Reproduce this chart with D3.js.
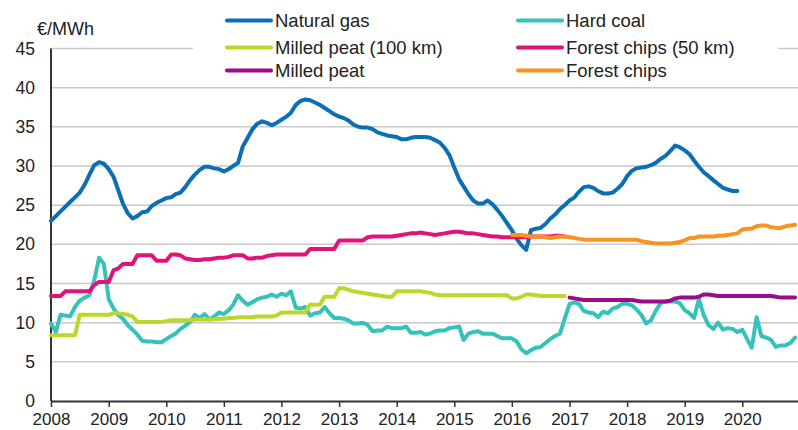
<!DOCTYPE html>
<html lang="en">
<head>
  <meta charset="UTF-8">
  <title>Fuel prices</title>
  <style>
    body { margin: 0; background: #fff; }
    svg { display: block; font-family: "Liberation Sans", Arial, sans-serif; }
    .grid line { stroke: #c9c9c9; stroke-width: 1.5; }
    .series { fill: none; stroke-width: 4; stroke-linejoin: round; stroke-linecap: round; }
    text { fill: #222; }
  </style>
</head>
<body>
  <svg width="798" height="430"></svg>
  <script src="https://d3js.org/d3.v7.min.js"></script>
  <script>
    // monthly values, €/MWh
    const years = [2008, 2009, 2010, 2011, 2012, 2013, 2014, 2015, 2016, 2017, 2018, 2019, 2020];
    const yTicks = [0, 5, 10, 15, 20, 25, 30, 35, 40, 45];

    // Jan 2008 - Dec 2019
    const naturalGas = [
      23.0, 23.6, 24.2, 24.8, 25.4, 26.0, 26.6, 27.6, 28.9, 30.1, 30.5, 30.3,
      29.6, 28.6, 27.0, 25.2, 24.0, 23.3, 23.6, 24.1, 24.2, 24.9, 25.3, 25.6,
      25.9, 26.0, 26.4, 26.6, 27.3, 28.2, 28.9, 29.5, 29.9, 29.9, 29.7, 29.6,
      29.3, 29.6, 30.0, 30.4, 32.5, 33.6, 34.7, 35.4, 35.7, 35.5, 35.2, 35.5,
      35.9, 36.3, 36.8, 37.8, 38.3, 38.5, 38.4, 38.1, 37.8, 37.4, 37.0, 36.6,
      36.3, 36.1, 35.8, 35.3, 35.0, 34.9, 34.9, 34.7, 34.3, 34.1, 33.9, 33.8,
      33.7, 33.4, 33.4, 33.6, 33.7, 33.7, 33.7, 33.6, 33.3, 33.0, 32.3, 31.4,
      29.8, 28.3, 27.4, 26.4, 25.6, 25.2, 25.2, 25.6, 25.1, 24.4, 23.6, 22.7,
      21.8, 20.7, 19.9, 19.3, 21.8, 22.0, 22.1, 22.6, 23.3, 23.8, 24.5, 25.0,
      25.6, 26.0, 26.7, 27.3, 27.4, 27.2, 26.8, 26.5, 26.5, 26.6, 27.1, 27.7,
      28.7, 29.4, 29.7, 29.8, 29.9, 30.1, 30.4, 30.9, 31.3, 31.9, 32.6, 32.4,
      32.0, 31.5, 30.7, 29.9, 29.2, 28.7, 28.2, 27.7, 27.2, 27.0, 26.8, 26.8
    ];

    // Jan 2008 - Dec 2020
    const hardCoal = [
      9.9, 8.8, 11.0, 10.9, 10.8, 12.0, 12.8, 13.2, 13.5, 15.4, 18.3, 17.5,
      13.0, 11.8, 11.0, 10.5, 9.7, 9.1, 8.5, 7.7, 7.6, 7.6, 7.5, 7.5,
      7.9, 8.3, 8.6, 9.2, 9.6, 10.1, 11.0, 10.6, 11.1, 10.4, 10.8, 11.3,
      11.1, 11.6, 12.3, 13.5, 12.8, 12.3, 12.6, 13.0, 13.2, 13.3, 13.6, 13.3,
      13.7, 13.5, 14.0, 11.9, 11.8, 12.0, 10.9, 11.2, 11.3, 12.0, 11.2, 10.6,
      10.6, 10.5, 10.3, 9.9, 9.9, 10.0, 9.7, 8.9, 9.0, 9.0, 9.5, 9.3,
      9.3, 9.3, 9.5, 8.7, 8.7, 8.8, 8.5, 8.6, 8.9, 9.0, 9.0, 9.3,
      9.4, 9.5, 7.8, 8.6, 8.8, 8.9, 8.6, 8.6, 8.6, 8.3, 8.0, 8.0,
      8.0, 7.6, 6.6, 6.1, 6.5, 6.8, 6.9, 7.4, 7.9, 8.3, 8.6, 10.5,
      12.4, 12.6, 12.4, 11.5, 11.3, 11.2, 10.7, 11.4, 11.2, 11.8, 12.0, 12.4,
      12.4, 12.2, 11.7, 11.0, 9.9, 10.3, 11.5, 12.5, 12.7, 12.7, 12.7, 12.5,
      11.6, 11.2, 10.6, 13.0, 11.0, 9.7, 9.2, 10.0, 9.1, 9.3, 9.2, 8.8,
      9.1, 7.9, 6.8, 10.7, 8.3, 8.1, 7.8, 6.9, 7.1, 7.1, 7.4, 8.1
    ];

    // Jan 2008 - Dec 2016
    const milledPeat100 = [
      8.4, 8.4, 8.4, 8.4, 8.4, 8.4, 11.0, 11.0, 11.0, 11.0, 11.0, 11.0,
      11.0, 11.2, 11.2, 11.1, 11.0, 10.8, 10.1, 10.1, 10.1, 10.1, 10.1, 10.1,
      10.2, 10.3, 10.3, 10.3, 10.3, 10.3, 10.4, 10.4, 10.4, 10.4, 10.4, 10.5,
      10.5, 10.6, 10.6, 10.7, 10.7, 10.7, 10.7, 10.8, 10.8, 10.8, 10.8, 10.9,
      11.3, 11.3, 11.3, 11.3, 11.3, 11.3, 12.3, 12.3, 12.3, 13.3, 13.3, 13.3,
      14.4, 14.4, 14.2, 14.0, 13.9, 13.8, 13.7, 13.6, 13.5, 13.4, 13.3, 13.3,
      14.0, 14.0, 14.0, 14.0, 14.0, 14.0, 13.9, 13.8, 13.6, 13.5, 13.5, 13.5,
      13.5, 13.5, 13.5, 13.5, 13.5, 13.5, 13.5, 13.5, 13.5, 13.5, 13.5, 13.5,
      13.1, 13.1, 13.3, 13.6, 13.6, 13.5, 13.4, 13.4, 13.4, 13.4, 13.4, 13.4
    ];

    // Jan 2008 - Dec 2016
    const forestChips50 = [
      13.4, 13.4, 13.4, 14.0, 14.0, 14.0, 14.0, 14.0, 14.0, 14.8, 15.2, 15.2,
      15.2, 16.7, 16.9, 17.5, 17.5, 17.5, 18.6, 18.6, 18.6, 18.6, 17.9, 17.9,
      17.9, 18.7, 18.7, 18.6, 18.2, 18.1, 18.0, 18.0, 18.1, 18.1, 18.2, 18.3,
      18.3, 18.4, 18.6, 18.6, 18.6, 18.2, 18.2, 18.3, 18.3, 18.5, 18.6, 18.7,
      18.7, 18.7, 18.7, 18.7, 18.7, 18.7, 19.4, 19.4, 19.4, 19.4, 19.4, 19.4,
      20.5, 20.5, 20.5, 20.5, 20.5, 20.5, 20.9, 21.0, 21.0, 21.0, 21.0, 21.0,
      21.1, 21.2, 21.3, 21.4, 21.4, 21.5, 21.4, 21.3, 21.2, 21.3, 21.4, 21.5,
      21.6, 21.6, 21.5, 21.4, 21.4, 21.3, 21.2, 21.1, 21.0, 21.0, 20.9, 20.9,
      20.9, 20.9, 20.9, 20.9, 21.0, 21.0, 21.0, 21.0, 21.0, 21.1, 21.1, 21.0
    ];

    // Jan 2017 - Dec 2020
    const milledPeat = [
      13.2, 13.1, 13.0, 12.9, 12.9, 12.9, 12.9, 12.9, 12.9, 12.9, 12.9, 12.9,
      12.9, 12.9, 12.8, 12.7, 12.7, 12.7, 12.7, 12.7, 12.7, 12.8, 13.1, 13.2,
      13.2, 13.2, 13.2, 13.3, 13.6, 13.6, 13.5, 13.4, 13.4, 13.4, 13.4, 13.4,
      13.4, 13.4, 13.4, 13.4, 13.4, 13.4, 13.4, 13.3, 13.2, 13.2, 13.2, 13.2
    ];

    // Jan 2016 - Dec 2020
    const forestChips = [
      21.2, 21.2, 21.2, 21.1, 21.0, 21.0, 21.0, 20.9, 20.8, 20.9, 21.0, 21.0,
      20.9, 20.8, 20.7, 20.6, 20.6, 20.6, 20.6, 20.6, 20.6, 20.6, 20.6, 20.6,
      20.6, 20.6, 20.6, 20.4, 20.3, 20.2, 20.1, 20.1, 20.1, 20.1, 20.2, 20.3,
      20.5, 20.8, 20.8, 21.0, 21.0, 21.0, 21.0, 21.1, 21.1, 21.2, 21.3, 21.4,
      21.9, 22.0, 22.0, 22.3, 22.4, 22.4, 22.2, 22.1, 22.1, 22.3, 22.4, 22.5
    ];

    const series = [
      { name: "Natural gas", color: "#0a6fb5", start: 2008, values: naturalGas },
      { name: "Hard coal", color: "#35c2bb", start: 2008, values: hardCoal },
      { name: "Milled peat (100 km)", color: "#bdd62a", start: 2008, values: milledPeat100 },
      { name: "Forest chips (50 km)", color: "#e3127a", start: 2008, values: forestChips50 },
      { name: "Milled peat", color: "#9c0b8c", start: 2017, values: milledPeat },
      { name: "Forest chips", color: "#f7931e", start: 2016, values: forestChips }
    ];

    const svg = d3.select("svg");
    const plotLeft = 51, plotRight = 800, plotTop = 48.5, plotBottom = 401;

    const x = d3.scaleTime()
      .domain([new Date(2008, 0, 1), new Date(2021, 0, 1)])
      .range([plotLeft, plotRight]);
    const y = d3.scaleLinear().domain([0, 45]).range([plotBottom, plotTop]);

    // grid
    svg.append("g").attr("class", "grid")
      .selectAll("line")
      .data(yTicks.filter(d => d > 0))
      .join("line")
      .attr("x1", plotLeft).attr("x2", 798)
      .attr("y1", d => y(d)).attr("y2", d => y(d));

    // legend background covers the top grid line
    svg.append("rect")
      .attr("x", 193).attr("y", 0).attr("width", 585).attr("height", 84)
      .attr("fill", "#fff");

    // y axis labels
    svg.append("g")
      .selectAll("text")
      .data(yTicks)
      .join("text")
      .attr("x", 35)
      .attr("y", d => y(d))
      .attr("dy", "0.35em")
      .attr("text-anchor", "end")
      .attr("font-size", 17.5)
      .text(d => d);

    svg.append("text")
      .attr("x", 37).attr("y", 35)
      .attr("font-size", 18)
      .text("€/MWh");

    // x axis
    const xAxis = svg.append("g").attr("transform", `translate(0,${plotBottom})`)
      .call(d3.axisBottom(x)
        .tickValues(years.map(yr => new Date(yr, 0, 1)))
        .tickFormat(d3.timeFormat("%Y"))
        .tickSize(6)
        .tickSizeOuter(0));
    xAxis.select(".domain").attr("stroke", "#333").attr("stroke-width", 2);
    xAxis.selectAll(".tick line").attr("stroke", "#333").attr("stroke-width", 1.5);
    xAxis.selectAll(".tick text")
      .attr("font-size", 17)
      .attr("font-family", "Liberation Sans, Arial, sans-serif")
      .attr("fill", "#222")
      .attr("y", 12);

    // y axis line
    svg.append("line")
      .attr("x1", plotLeft).attr("x2", plotLeft)
      .attr("y1", plotTop).attr("y2", plotBottom)
      .attr("stroke", "#333").attr("stroke-width", 2);

    const line = d3.line()
      .x(d => x(d.date))
      .y(d => y(d.value));

    svg.append("g")
      .selectAll("path")
      .data(series)
      .join("path")
      .attr("class", "series")
      .attr("stroke", d => d.color)
      .attr("d", d => line(d.values.map((v, i) => ({ date: new Date(d.start, i, 1), value: v }))));

    // legend, two columns
    const legendItems = [
      { s: series[0], col: 0, row: 0 },
      { s: series[2], col: 0, row: 1 },
      { s: series[4], col: 0, row: 2 },
      { s: series[1], col: 1, row: 0 },
      { s: series[3], col: 1, row: 1 },
      { s: series[5], col: 1, row: 2 }
    ];
    const colX = [227, 518];
    const rowY = [20.5, 47.5, 70.5];

    const legend = svg.append("g")
      .selectAll("g")
      .data(legendItems)
      .join("g")
      .attr("transform", d => `translate(${colX[d.col]},${rowY[d.row]})`);

    legend.append("line")
      .attr("x1", 0).attr("x2", 44)
      .attr("stroke", d => d.s.color)
      .attr("stroke-width", 4)
      .attr("stroke-linecap", "round");

    legend.append("text")
      .attr("x", 48)
      .attr("dy", "0.35em")
      .attr("font-size", 18.5)
      .text(d => d.s.name);
  </script>
</body>
</html>
